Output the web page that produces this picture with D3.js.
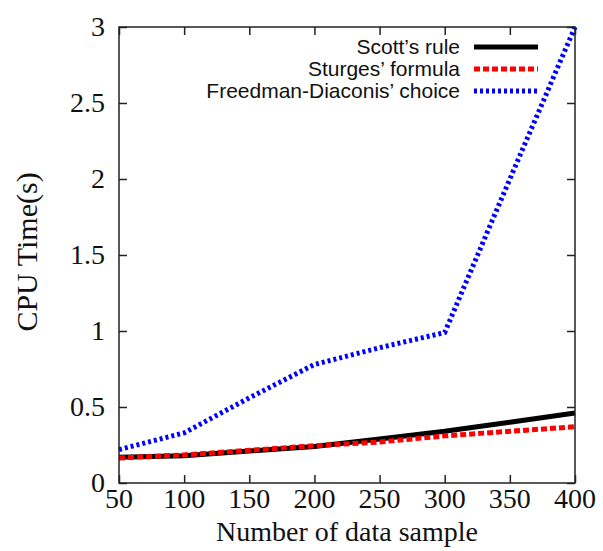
<!DOCTYPE html>
<html>
<head>
<meta charset="utf-8">
<script src="https://cdn.jsdelivr.net/npm/d3@7"></script>
<style>
    body { margin: 0; background: #fff; }
    .ticklabel { font-family: 'Liberation Serif', 'Times New Roman', serif; font-size: 28px; fill: #111; }
    .axistitle { font-family: 'Liberation Serif', 'Times New Roman', serif; font-size: 28px; fill: #111; }
    .legendtext { font-family: 'Liberation Sans', Arial, sans-serif; font-size: 21px; fill: #111; }
</style>
</head>
<body>
<svg class="chartArea"></svg>
<script>
// Sample sizes on the x axis
var sampleSizes = [50, 100, 150, 200, 250, 300, 350, 400];

// CPU time (s) for each bin-width rule
var scottValues = [0.17, 0.18, 0.21, 0.24, 0.29, 0.34, 0.40, 0.46];
var sturgesValues = [0.165, 0.185, 0.215, 0.245, 0.27, 0.31, 0.34, 0.37];
var freedmanValues = [0.22, 0.33, 0.56, 0.78, 0.89, 0.99, 2.0, 3.0];

var seriesNames = ['Scott\u2019s rule', 'Sturges\u2019 formula', 'Freedman-Diaconis\u2019 choice'];

var xTicks = [50, 100, 150, 200, 250, 300, 350, 400];
var yTicks = [0, 0.5, 1, 1.5, 2, 2.5, 3];

drawChart('chartArea');

function drawChart(areaID) {
    var totalWidth = 603,
        totalHeight = 551;
    var margin = { top: 27, right: 28, bottom: 68, left: 119 },
        width = totalWidth - margin.left - margin.right,
        height = totalHeight - margin.top - margin.bottom;
    var tickLen = 8;

    var styles = [
        { color: '#000000', dash: null },
        { color: '#ff0000', dash: '6,3' },
        { color: '#0000ff', dash: '3,3' }
    ];
    var allSeries = [scottValues, sturgesValues, freedmanValues];

    var x = d3.scaleLinear().domain([50, 400]).range([0, width]);
    var y = d3.scaleLinear().domain([0, 3]).range([height, 0]);

    var svg = d3.select('.' + areaID)
        .attr('width', totalWidth)
        .attr('height', totalHeight);

    var chart = svg.append('g')
        .attr('transform', 'translate(' + margin.left + ',' + margin.top + ')');

    // Inward ticks on all four sides, gnuplot style
    chart.append('g')
        .attr('transform', 'translate(0,' + height + ')')
        .call(d3.axisBottom(x).tickValues(xTicks).tickSize(-tickLen).tickFormat(''))
        .call(g => g.select('.domain').remove());
    chart.append('g')
        .call(d3.axisTop(x).tickValues(xTicks).tickSize(-tickLen).tickFormat(''))
        .call(g => g.select('.domain').remove());
    chart.append('g')
        .call(d3.axisLeft(y).tickValues(yTicks).tickSize(-tickLen).tickFormat(''))
        .call(g => g.select('.domain').remove());
    chart.append('g')
        .attr('transform', 'translate(' + width + ',0)')
        .call(d3.axisRight(y).tickValues(yTicks).tickSize(-tickLen).tickFormat(''))
        .call(g => g.select('.domain').remove());
    chart.selectAll('.tick line')
        .attr('stroke', '#222')
        .attr('stroke-width', 1.5);

    // Tick labels
    chart.append('g')
        .selectAll('text')
        .data(xTicks)
        .enter()
        .append('text')
        .attr('class', 'ticklabel')
        .attr('x', d => x(d))
        .attr('y', height + 25)
        .attr('text-anchor', 'middle')
        .text(d => d);

    chart.append('g')
        .selectAll('text')
        .data(yTicks)
        .enter()
        .append('text')
        .attr('class', 'ticklabel')
        .attr('x', -14)
        .attr('y', d => y(d) + 9)
        .attr('text-anchor', 'end')
        .text(d => d);

    // Lines
    var valueline = d3.line()
        .x((d, i) => x(sampleSizes[i]))
        .y(d => y(d));

    allSeries.forEach(function(values, i) {
        chart.append('path')
            .datum(values)
            .attr('d', valueline)
            .attr('fill', 'none')
            .attr('stroke', styles[i].color)
            .attr('stroke-width', 5)
            .attr('stroke-dasharray', styles[i].dash);
    });

    // Frame
    chart.append('rect')
        .attr('width', width)
        .attr('height', height)
        .attr('fill', 'none')
        .attr('stroke', '#222')
        .attr('stroke-width', 1.5);

    // Legend
    var legend = chart.append('g')
        .attr('transform', 'translate(' + (460 - margin.left) + ',' + (47 - margin.top) + ')');
    seriesNames.forEach(function(name, i) {
        var row = legend.append('g').attr('transform', 'translate(0,' + (i * 22) + ')');
        row.append('text')
            .attr('class', 'legendtext')
            .attr('x', 0)
            .attr('y', 7)
            .attr('text-anchor', 'end')
            .text(name);
        row.append('line')
            .attr('x1', 14)
            .attr('x2', 78)
            .attr('y1', 0)
            .attr('y2', 0)
            .attr('stroke', styles[i].color)
            .attr('stroke-width', 5)
            .attr('stroke-dasharray', styles[i].dash);
    });

    // Axis titles
    chart.append('text')
        .attr('class', 'axistitle')
        .attr('x', width / 2)
        .attr('y', height + 58)
        .attr('text-anchor', 'middle')
        .text('Number of data sample');

    chart.append('text')
        .attr('class', 'axistitle')
        .style('font-size', '30px')
        .attr('transform', 'rotate(-90)')
        .attr('x', -height / 2 + 3)
        .attr('y', 37 - margin.left)
        .attr('text-anchor', 'middle')
        .text('CPU Time(s)');
}
</script>
</body>
</html>
